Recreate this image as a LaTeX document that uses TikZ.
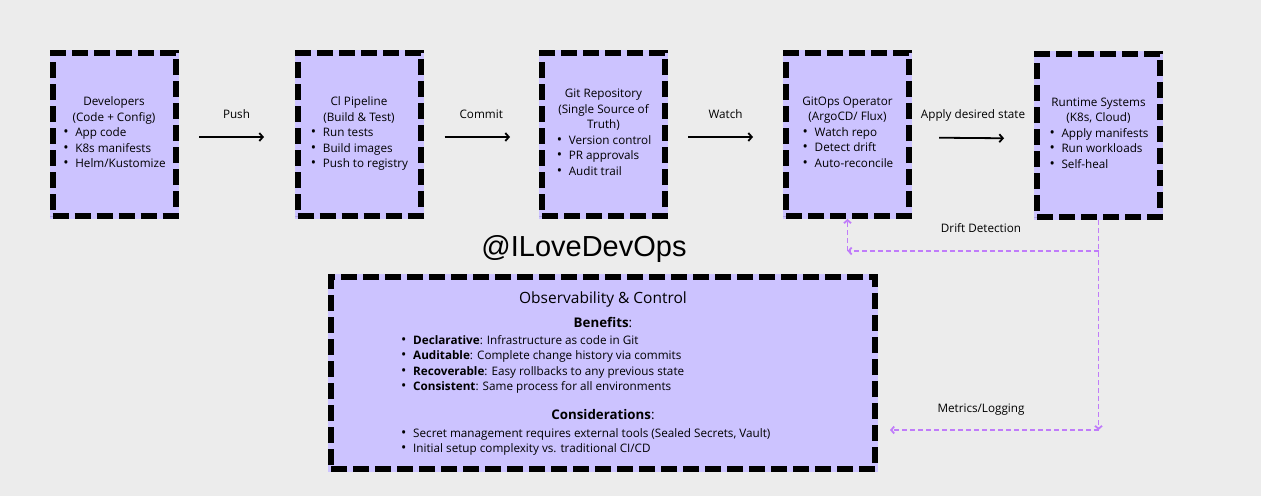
\documentclass[tikz,border=0pt]{standalone}
\usepackage{fontspec}
\setmainfont{Open Sans}
\newfontfamily\wmfont{Liberation Sans}
\usetikzlibrary{arrows.meta}
\definecolor{bgc}{RGB}{236,236,236}
\definecolor{lav}{RGB}{204,195,255}
\definecolor{pur}{RGB}{192,124,250}
\newcommand\bitem[1]{\makebox[13pt][l]{\hspace{1pt}\scalebox{1.2}{\textbullet}}#1}
\newcommand\citem[1]{\makebox[12pt][l]{\scalebox{1.2}{\textbullet}}#1}
\newcommand\bodyf{\fontsize{11.7}{15.5}\selectfont}
\begin{document}
\begin{tikzpicture}[x=1pt,y=-1pt,
  stagebox/.style={rectangle, fill=lav, minimum width=123pt, minimum height=163pt,
    inner sep=0pt, align=center, font=\bodyf,
    preaction={draw=lav, line width=6pt, solid},
    draw=black, line width=6pt, dash pattern=on 16pt off 6pt},
  arr/.style={draw=black, line width=1.8pt, -{Straight Barb[length=3.5pt,width=8pt]}},
  pline/.style={draw=pur, line width=1.8pt, dash pattern=on 5pt off 3pt},
  ptip/.style={-{Straight Barb[length=3pt,width=7pt]}},
  lbl/.style={font=\bodyf, text height=8pt, text depth=2.5pt, inner sep=0pt}
]
\fill[bgc] (0,0) rectangle (1261,496);
\useasboundingbox (0,0) rectangle (1261,496);

% stage boxes
\node[stagebox] (dev) at (114,134.5) {Developers\\(Code + Config)\\\begin{tabular}[t]{@{}l@{}}\bitem{App code}\\\bitem{K8s manifests}\\\bitem{Helm/Kustomize}\end{tabular}};
\node[stagebox] (ci) at (359,134.5) {Cl Pipeline\\(Build \& Test)\\\begin{tabular}[t]{@{}l@{}}\bitem{Run tests}\\\bitem{Build images}\\\bitem{Push to registry}\end{tabular}};
\node[stagebox] (git) at (603.5,134.5) {Git Repository\\(Single Source of\\Truth)\\\begin{tabular}[t]{@{}l@{}}\bitem{Version control}\\\bitem{PR approvals}\\\bitem{Audit trail}\end{tabular}};
\node[stagebox] (ops) at (847.5,134.5) {GitOps Operator\\(ArgoCD/ Flux)\\\begin{tabular}[t]{@{}l@{}}\bitem{Watch repo}\\\bitem{Detect drift}\\\bitem{Auto-reconcile}\end{tabular}};
\node[stagebox] (rt) at (1098.5,135.5) {Runtime Systems\\(K8s, Cloud)\\\begin{tabular}[t]{@{}l@{}}\bitem{Apply manifests}\\\bitem{Run workloads}\\\bitem{Self-heal}\end{tabular}};

% arrows between stages
\draw[arr, shorten <=20.5pt, shorten >=30.5pt] ([yshift=-2.5pt]dev.east) -- node[lbl, midway, yshift=21pt] (lpush) {Push} ([yshift=-2.5pt]ci.west);
\draw[arr, shorten <=21pt, shorten >=29pt] ([yshift=-2.5pt]ci.east) -- node[lbl, midway, yshift=21pt] (lcommit) {Commit} ([yshift=-2.5pt]git.west);
\draw[arr, shorten <=20pt, shorten >=30pt] ([yshift=-2.5pt]git.east) -- node[lbl, midway, yshift=21pt] (lwatch) {Watch} ([yshift=-2.5pt]ops.west);
\draw[arr, shorten <=27pt, shorten >=30pt] ([yshift=-3pt]ops.east) -- node[lbl, midway, yshift=22pt] (lapply) {Apply desired state} ([yshift=-3pt]rt.west);

% watermark
\node[font=\wmfont\fontsize{29}{34}\selectfont, anchor=base, inner sep=0pt] (wm) at (584,256) {@ILoveDevOps};

% observability box
\node[stagebox, minimum width=544pt, minimum height=192pt] (obs) at (603,373) {};
\node[font=\fontsize{15.5}{18}\selectfont, anchor=base, inner sep=0pt] (obst) at (603,303.5) {Observability \& Control};
\node[font=\fontsize{13.3}{16}\selectfont, anchor=base, inner sep=0pt] (bent) at (603,327.7) {\textbf{Benefits}:};
\node[font=\bodyf, anchor=base west, inner sep=0pt] (benl) at (401,344) {\begin{tabular}[t]{@{}l@{}}\citem{\textbf{Declarative}: Infrastructure as code in Git}\\\citem{\textbf{Auditable}: Complete change history via commits}\\\citem{\textbf{Recoverable}: Easy rollbacks to any previous state}\\\citem{\textbf{Consistent}: Same process for all environments}\end{tabular}};
\node[font=\fontsize{13.3}{16}\selectfont, anchor=base, inner sep=0pt] (cont) at (603,419.7) {\textbf{Considerations}:};
\node[font=\bodyf, anchor=base west, inner sep=0pt] (conl) at (401,437) {\begin{tabular}[t]{@{}l@{}}\citem{Secret management requires external tools (Sealed Secrets, Vault)}\\\citem{Initial setup complexity vs. traditional CI/CD}\end{tabular}};

% feedback connectors
\coordinate (dd) at (1098.5,251);
\coordinate (dg) at (ops.south |- dd);
\coordinate (ml) at (1098.5,430);
\draw[pline] (rt.south) -- (dd);
\draw[pline, ptip] (dd) -- (dg);
\draw[pline, ptip] (dg) -- (ops.south);
\draw[pline, ptip] (rt.south) -- (ml);
\draw[pline, ptip, shorten >=12pt] (ml) -- (obs.east |- ml);
\node[lbl] (ldrift) at (981,230) {Drift Detection};
\node[lbl] (lmetric) at (981,410) {Metrics/Logging};
\end{tikzpicture}
\end{document}
